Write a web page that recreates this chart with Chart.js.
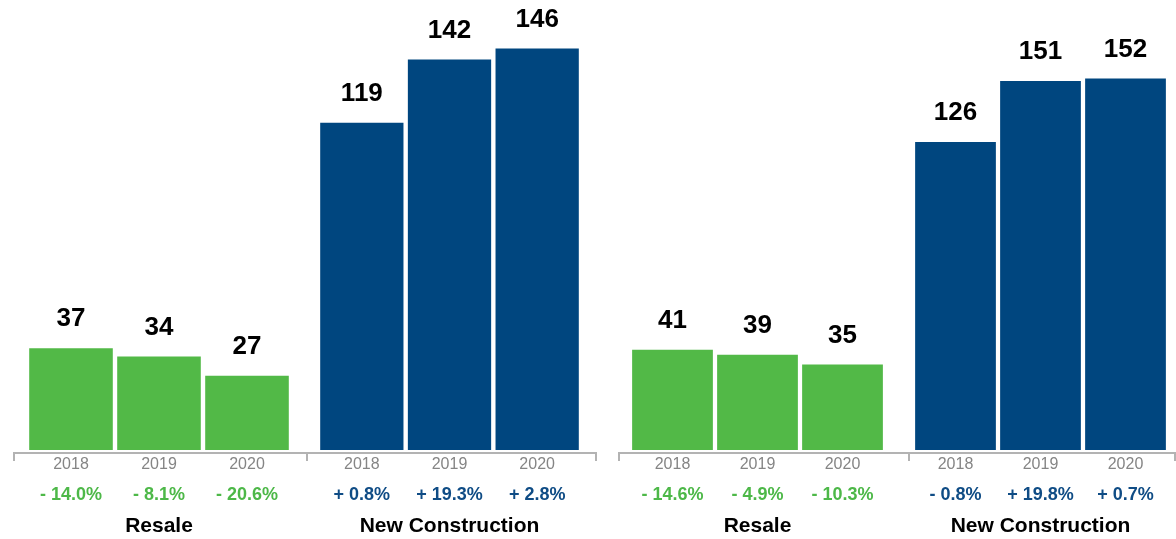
<!DOCTYPE html>
<html>
<head>
<meta charset="utf-8">
<script src="https://cdn.jsdelivr.net/npm/chart.js@4"></script>
<style>
  html, body { margin: 0; padding: 0; background: #fff; }
  #wrap { position: relative; width: 1176px; height: 539px; overflow: hidden; }
  #wrap canvas { position: absolute; top: 0; }
</style>
</head>
<body>
<div id="wrap"></div>
<script>
const years = ['2018', '2019', '2020'];
const groupNames = ['Resale', 'New Construction'];

// left panel
const leftResale = [37, 34, 27];
const leftNew = [119, 142, 146];
const leftResaleChange = ['- 14.0%', '- 8.1%', '- 20.6%'];
const leftNewChange = ['+ 0.8%', '+ 19.3%', '+ 2.8%'];

// right panel
const rightResale = [41, 39, 35];
const rightNew = [126, 151, 152];
const rightResaleChange = ['- 14.6%', '- 4.9%', '- 10.3%'];
const rightNewChange = ['- 0.8%', '+ 19.8%', '+ 0.7%'];

const green = '#52b947';
const blue = '#00467f';
const greenText = '#4db848';
const blueText = '#0f4c85';

const H = 539;
const BASE = 450; // bar baseline

// one chart per group; left/width cover the axis segment, pad sets the bar area
const subCharts = [
    { data: leftResale, changes: leftResaleChange, name: groupNames[0], color: green, text: greenText, max: 160, left: 13, width: 293, padL: 14, padR: 15, endTick: false },
    { data: leftNew, changes: leftNewChange, name: groupNames[1], color: blue, text: blueText, max: 160, left: 306, width: 291, padL: 12, padR: 16, endTick: true },
    { data: rightResale, changes: rightResaleChange, name: groupNames[0], color: green, text: greenText, max: 180, left: 618, width: 290, padL: 12, padR: 23, endTick: false },
    { data: rightNew, changes: rightNewChange, name: groupNames[1], color: blue, text: blueText, max: 180, left: 908, width: 268, padL: 5, padR: 8, endTick: true }
];

const FONT = '"Liberation Sans", Arial, Helvetica, sans-serif';

const labelsPlugin = {
    id: 'labels',
    afterDatasetsDraw(chart, args, opts) {
        const ctx = chart.ctx;
        const area = chart.chartArea;
        const xs = chart.scales.x;
        const meta = chart.getDatasetMeta(0);
        ctx.save();

        // axis line with end ticks
        ctx.strokeStyle = '#b3b3b3';
        ctx.lineWidth = 2;
        ctx.beginPath();
        ctx.moveTo(1, 461);
        ctx.lineTo(1, 453);
        ctx.lineTo(chart.width - (opts.endTick ? 1 : 0), 453);
        if (opts.endTick) ctx.lineTo(chart.width - 1, 461);
        ctx.stroke();

        ctx.textAlign = 'center';
        ctx.textBaseline = 'middle';
        meta.data.forEach((bar, i) => {
            const x = xs.getPixelForValue(i);
            ctx.fillStyle = '#000';
            ctx.font = 'bold 26px ' + FONT;
            ctx.fillText(String(opts.values[i]), bar.x, bar.y - 29);

            ctx.fillStyle = '#858585';
            ctx.font = '16px ' + FONT;
            ctx.fillText(years[i], x, 465);

            ctx.fillStyle = opts.text;
            ctx.font = 'bold 18px ' + FONT;
            ctx.fillText(opts.changes[i], x, 495);
        });

        ctx.fillStyle = '#000';
        ctx.font = 'bold 21px ' + FONT;
        ctx.fillText(opts.name, (area.left + area.right) / 2, 526);
        ctx.restore();
    }
};

const wrap = document.getElementById('wrap');
subCharts.forEach(sc => {
    const canvas = document.createElement('canvas');
    canvas.width = sc.width;
    canvas.height = H;
    canvas.style.left = sc.left + 'px';
    canvas.style.width = sc.width + 'px';
    canvas.style.height = H + 'px';
    wrap.appendChild(canvas);

    const topPad = 10;

    new Chart(canvas.getContext('2d'), {
        type: 'bar',
        data: {
            labels: years,
            datasets: [{
                label: sc.name,
                data: sc.data,
                backgroundColor: sc.color,
                barPercentage: 0.95,
                categoryPercentage: 1.0
            }]
        },
        options: {
            responsive: false,
            animation: false,
            devicePixelRatio: 1,
            layout: { padding: { left: sc.padL, right: sc.padR, top: topPad, bottom: H - BASE } },
            scales: {
                x: { display: false },
                y: { display: false, min: 0, max: sc.max }
            },
            plugins: {
                legend: { display: false },
                tooltip: { enabled: false },
                labels: { values: sc.data, changes: sc.changes, name: sc.name, text: sc.text, endTick: sc.endTick }
            }
        },
        plugins: [labelsPlugin]
    });
});
</script>
</body>
</html>
